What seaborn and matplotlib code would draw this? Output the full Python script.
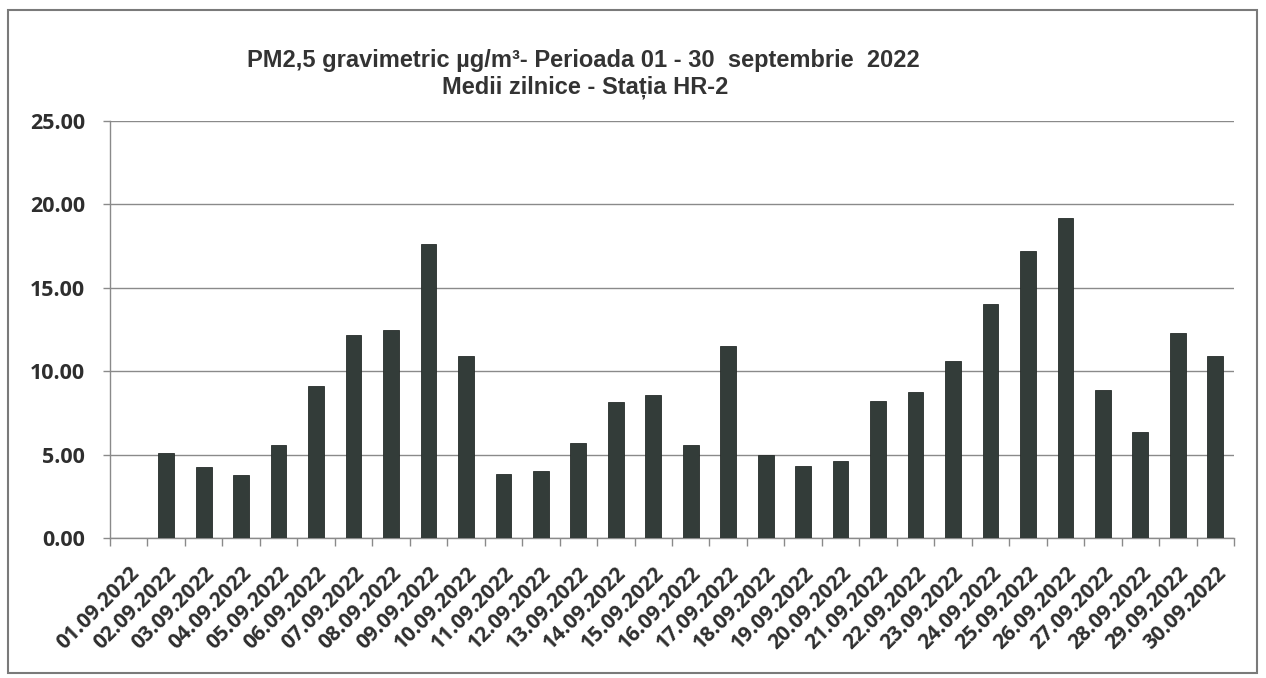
import numpy as np
import pandas as pd
import matplotlib
matplotlib.use("Agg")
import matplotlib.pyplot as plt
from matplotlib.ticker import FixedLocator, FormatStrFormatter
import seaborn as sns

dates = ["01.09.2022", "02.09.2022", "03.09.2022", "04.09.2022", "05.09.2022",
         "06.09.2022", "07.09.2022", "08.09.2022", "09.09.2022", "10.09.2022",
         "11.09.2022", "12.09.2022", "13.09.2022", "14.09.2022", "15.09.2022",
         "16.09.2022", "17.09.2022", "18.09.2022", "19.09.2022", "20.09.2022",
         "21.09.2022", "22.09.2022", "23.09.2022", "24.09.2022", "25.09.2022",
         "26.09.2022", "27.09.2022", "28.09.2022", "29.09.2022", "30.09.2022"]
pm25 = [np.nan, 5.1, 4.25, 3.8, 5.55, 9.1, 12.15, 12.5, 17.6, 10.9,
        3.85, 4.0, 5.7, 8.15, 8.55, 5.55, 11.5, 4.95, 4.3, 4.6,
        8.2, 8.75, 10.6, 14.0, 17.2, 19.2, 8.85, 6.35, 12.3, 10.9]
yticks = [0, 5, 10, 15, 20, 25]
title_lines = ["PM2,5 gravimetric µg/m³- Perioada 01 - 30  septembrie  2022",
               "Medii zilnice - Stația HR-2"]

df = pd.DataFrame({"data": dates, "valoare": pm25})

sns.set_theme(style="white")
plt.rcParams["font.family"] = ["Open Sans", "DejaVu Sans"]

fig = plt.figure(figsize=(12.66, 6.78), dpi=100)
ax = fig.add_axes([0.0869, 0.2065, 0.9747 - 0.0869, 0.8215 - 0.2065])

sns.barplot(data=df, x="data", y="valoare", order=dates, color="#333c39",
            width=0.42, saturation=1, edgecolor="#262c2a", linewidth=0.6,
            ax=ax, zorder=3)

ax.set_xlim(-0.5, len(dates) - 0.5)
ax.set_ylim(0, 25)
ax.set_yticks(yticks)
ax.yaxis.set_major_formatter(FormatStrFormatter("%.2f"))
ax.grid(axis="y", color="#8a8a8a", linewidth=1.0, zorder=0)
ax.grid(axis="x", visible=False)
ax.set_xlabel("")
ax.set_ylabel("")

for s in ["top", "right"]:
    ax.spines[s].set_visible(False)
for s in ["left", "bottom"]:
    ax.spines[s].set_color("#8a8a8a")
    ax.spines[s].set_linewidth(1.0)

ax.set_xticks(range(len(dates)))
ax.set_xticklabels(dates, rotation=45, ha="right", rotation_mode="anchor",
                   fontsize=15, fontweight="bold", color="#2e2e2e")
ax.xaxis.set_minor_locator(FixedLocator(np.arange(-0.5, len(dates), 1.0)))
ax.tick_params(axis="x", which="major", length=0, pad=18)
ax.tick_params(axis="x", which="minor", length=6, width=1, color="#8a8a8a",
               direction="out", bottom=True)
ax.tick_params(axis="y", which="major", length=5, width=1, color="#8a8a8a",
               direction="out", left=True, pad=13, labelsize=15.5,
               labelcolor="#2e2e2e")
for lab in ax.get_yticklabels():
    lab.set_fontweight("bold")

fig.text(0.461, 0.911, title_lines[0], ha="center", va="center",
         fontsize=17, fontweight="bold", color="#333333",
         family=["Liberation Sans", "DejaVu Sans"])
fig.text(0.462, 0.872, title_lines[1], ha="center", va="center",
         fontsize=17, fontweight="bold", color="#333333",
         family=["Liberation Sans", "DejaVu Sans"])

frame = plt.Rectangle((8 / 1266, 1 - 673 / 678), (1257 - 8) / 1266, (673 - 10) / 678,
                      transform=fig.transFigure, fill=False,
                      edgecolor="#7a7a7a", linewidth=1.5)
fig.patches.append(frame)

fig.savefig("out.png", dpi=100)
